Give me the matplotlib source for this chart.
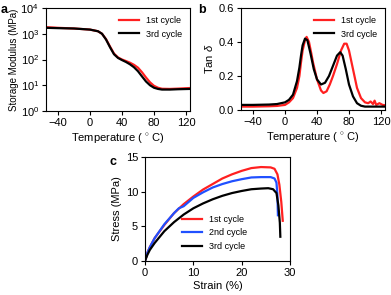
import matplotlib
matplotlib.use('Agg')
import matplotlib.pyplot as plt
import numpy as np

plt.rcParams['font.family'] = ['Liberation Sans', 'DejaVu Sans']
plt.rcParams['mathtext.fontset'] = 'custom'
plt.rcParams['mathtext.rm'] = 'Liberation Sans'
plt.rcParams['mathtext.it'] = 'Liberation Sans:italic'

# panel a: storage modulus vs temperature
temp_a = [-55, -40, -20, 0, 10, 15, 20, 25, 30, 35, 40, 45, 50, 55, 60, 65, 70, 75, 80, 85, 90, 100, 110, 125]
mod_1st = [1800, 1700, 1600, 1450, 1250, 1000, 620, 320, 170, 120, 100, 87, 75, 62, 48, 32, 20, 13, 9.5, 8, 7.3, 7.2, 7.4, 7.8]
mod_3rd = [1700, 1650, 1600, 1450, 1250, 1000, 600, 300, 160, 115, 95, 80, 65, 50, 35, 22, 14, 10, 8, 7.2, 6.8, 6.8, 7.0, 7.2]

# panel b: tan delta vs temperature
temp_b1 = [-55, -40, -20, -10, 0, 5, 10, 15, 18, 20, 22, 25, 27, 30, 33, 35, 40, 45, 48, 52, 56, 60, 65, 70, 74, 77, 80, 85,
           90, 95, 100, 104, 107, 110, 112, 114, 118, 122, 125]
tan_1st = [0.02, 0.02, 0.022, 0.024, 0.03, 0.045, 0.07, 0.13, 0.2, 0.28, 0.35, 0.41, 0.43, 0.40, 0.33, 0.28, 0.18, 0.115, 0.1,
           0.11, 0.15, 0.2, 0.27, 0.35, 0.39, 0.39, 0.35, 0.24, 0.13, 0.07, 0.045, 0.04, 0.05, 0.035, 0.055, 0.03, 0.04, 0.03, 0.028]
temp_b3 = [-55, -40, -20, -10, 0, 5, 10, 15, 18, 20, 22, 25, 28, 32, 36, 40, 45, 50, 55, 60, 65, 69, 72, 76, 80, 85, 90, 95,
           100, 110, 125]
tan_3rd = [0.03, 0.03, 0.032, 0.035, 0.045, 0.06, 0.09, 0.17, 0.25, 0.32, 0.38, 0.42, 0.41, 0.33, 0.24, 0.18, 0.15, 0.16,
           0.2, 0.26, 0.32, 0.34, 0.32, 0.24, 0.15, 0.08, 0.04, 0.025, 0.02, 0.02, 0.02]

# panel c: stress-strain
strain_1st = [0, 0.5, 1, 2, 4, 6, 8, 10, 12, 14, 16, 18, 20, 22, 24, 26, 26.8, 27.4, 27.8, 28.2, 28.5]
stress_1st = [0, 1.2, 2.0, 3.3, 5.2, 6.9, 8.2, 9.3, 10.3, 11.1, 11.9, 12.5, 13.0, 13.4, 13.55, 13.5, 13.3, 12.5, 11.0, 8.5, 5.8]
strain_2nd = [0, 0.5, 1, 2, 4, 6, 7, 8, 9, 10, 12, 14, 16, 18, 20, 22, 24, 26, 26.8, 27.2, 27.4, 27.5]
stress_2nd = [0, 1.2, 2.0, 3.3, 5.3, 6.9, 7.6, 7.9, 8.5, 9.1, 9.9, 10.6, 11.1, 11.5, 11.8, 12.05, 12.1, 12.1, 11.9, 11.3, 9.5, 6.6]
strain_3rd = [0, 0.5, 1, 2, 4, 6, 8, 10, 12, 14, 16, 18, 20, 22, 24, 25.5, 26.5, 27.2, 27.6, 27.9, 28.0]
stress_3rd = [0, 0.9, 1.6, 2.6, 4.3, 5.6, 6.7, 7.6, 8.3, 8.9, 9.4, 9.8, 10.1, 10.35, 10.45, 10.5, 10.35, 9.8, 8.0, 5.5, 3.5]

W, H = 391, 295
fig = plt.figure(figsize=(W / 100, H / 100), dpi=100)

def box(l, r, t, b):
    return [l / W, 1 - b / H, (r - l) / W, (b - t) / H]

red = '#ff2020'
fs = 8
lfs = 8

def style(ax):
    ax.tick_params(labelsize=fs, length=3, width=0.8, pad=2)
    for s in ax.spines.values():
        s.set_linewidth(0.8)

# a
ax = fig.add_axes(box(46, 190, 8, 111))
ax.plot(temp_a, mod_1st, color=red, lw=1.6, label='1st cycle')
ax.plot(temp_a, mod_3rd, color='black', lw=1.6, label='3rd cycle')
ax.set_yscale('log')
ax.set_ylim(1, 1e4)
ax.set_xlim(-55, 125)
ax.set_xticks([-40, 0, 40, 80, 120])
ax.set_yticks([1, 10, 100, 1000, 10000])
ax.minorticks_off()
ax.set_xlabel('Temperature ( $^{\\circ}$ C)', fontsize=lfs, labelpad=2)
ax.set_ylabel('Storage Modulus (MPa)', fontsize=7, labelpad=1)
ax.legend(frameon=False, fontsize=6.5, loc='upper right', handlelength=2.2, borderaxespad=0.5)
style(ax)
fig.text(1 / W, 1 - 13 / H, 'a', fontsize=fs + 1, fontweight='bold')

# b
ax = fig.add_axes(box(241, 385, 8, 110))
ax.plot(temp_b1, tan_1st, color=red, lw=1.6, label='1st cycle')
ax.plot(temp_b3, tan_3rd, color='black', lw=1.6, label='3rd cycle')
ax.set_xlim(-55, 125)
ax.set_ylim(0, 0.6)
ax.set_xticks([-40, 0, 40, 80, 120])
ax.set_yticks([0, 0.2, 0.4, 0.6])
ax.set_xlabel('Temperature ( $^{\\circ}$ C)', fontsize=lfs, labelpad=2)
ax.set_ylabel('Tan $\\mathit{\\delta}$', fontsize=lfs, labelpad=3)
ax.legend(frameon=False, fontsize=6.5, loc='upper right', handlelength=2.2, borderaxespad=0.5)
style(ax)
fig.text(198 / W, 1 - 13 / H, 'b', fontsize=fs + 1, fontweight='bold')

# c
ax = fig.add_axes(box(145, 290, 157, 261))
ax.plot(strain_1st, stress_1st, color=red, lw=1.6, label='1st cycle')
ax.plot(strain_2nd, stress_2nd, color='#2050ff', lw=1.6, label='2nd cycle')
ax.plot(strain_3rd, stress_3rd, color='black', lw=1.6, label='3rd cycle')
ax.set_xlim(0, 30)
ax.set_ylim(0, 15)
ax.set_xticks([0, 10, 20, 30])
ax.set_yticks([0, 5, 10, 15])
ax.set_xlabel('Strain (%)', fontsize=lfs, labelpad=2)
ax.set_ylabel('Stress (MPa)', fontsize=lfs, labelpad=3)
ax.legend(frameon=False, fontsize=6.5, loc='center', bbox_to_anchor=(0.48, 0.27), handlelength=2.2)
style(ax)
fig.text(110 / W, 1 - 165 / H, 'c', fontsize=fs + 1, fontweight='bold')

fig.savefig('out.png', dpi=100)
